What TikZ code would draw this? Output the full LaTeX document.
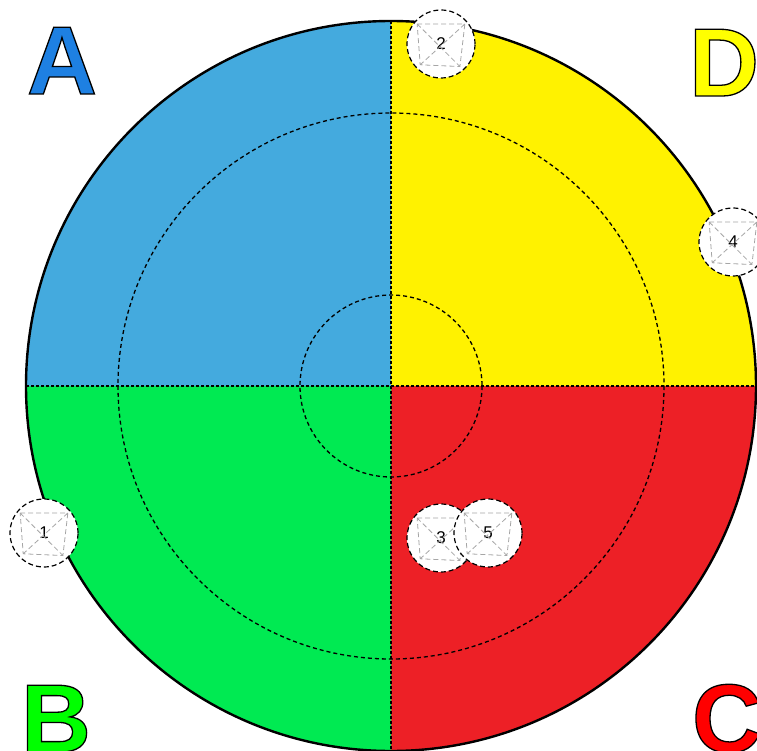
\documentclass[tikz,border=0pt]{standalone}
\usepackage{fontspec}
\setmainfont{Liberation Sans}
\usetikzlibrary{calc}
\definecolor{qblue}{RGB}{68,170,222}
\definecolor{qyellow}{RGB}{255,242,0}
\definecolor{qgreen}{RGB}{0,234,82}
\definecolor{qred}{RGB}{237,32,38}
\definecolor{lblue}{RGB}{30,128,226}
\definecolor{lyellow}{RGB}{255,255,0}
\definecolor{lgreen}{RGB}{0,255,0}
\definecolor{lred}{RGB}{255,0,0}
% outlined letters: fill with the text colour, stroke in black
\newcommand\outl[1]{\special{pdf:literal direct 2 Tr 1.3 w 0 0 0 RG}#1\special{pdf:literal direct 0 Tr}}

\begin{document}
\begin{tikzpicture}[x=1pt,y=-1pt,
  ring/.style={black,line width=1.3pt,dash pattern=on 4pt off 3pt},
  axis/.style={black,line width=2pt,dash pattern=on 3pt off 2pt},
  marker/.style={circle,fill=white,draw=black,line width=1.2pt,dash pattern=on 5pt off 3pt,minimum size=68pt,inner sep=0pt,font=\fontsize{17}{17}\selectfont},
  mlines/.style={gray!70,line width=0.8pt,dash pattern=on 5pt off 3pt},
  letter/.style={anchor=base,inner sep=0pt,font=\fontsize{97}{97}\selectfont\bfseries}]
\useasboundingbox (0,0) rectangle (757,751);
\clip (0,0) rectangle (757,751);
\coordinate (c) at (391,386);
\fill[qblue] (c) -- ++(180:365) arc[start angle=180,end angle=270,radius=365] -- cycle;
\fill[qyellow] (c) -- ++(270:365) arc[start angle=270,end angle=360,radius=365] -- cycle;
\fill[qred] (c) -- ++(0:365) arc[start angle=0,end angle=90,radius=365] -- cycle;
\fill[qgreen] (c) -- ++(90:365) arc[start angle=90,end angle=180,radius=365] -- cycle;
\draw[ring] (c) circle[radius=273];
\draw[ring] (c) circle[radius=91];
\draw[axis] (391,21) -- (391,751);
\draw[axis] (26,386) -- (756,386);
\draw[black,line width=2.4pt] (c) circle[radius=365];
% markers
\node[marker] (m1) at (44,533) {1};
\node[marker] (m2) at (441,44) {2};
\node[marker] (m4) at (733,242) {4};
\node[marker] (m3) at (441,538) {3};
\foreach \m in {m1,m2,m4,m3}
  \draw[mlines] ($(\m)!0.9!(\m.140)$) -- ($(\m)!0.9!(\m.40)$) -- ($(\m)!0.85!(\m.-50)$) -- ($(\m)!0.85!(\m.-135)$) -- cycle
    ($(\m)!0.9!(\m.140)$) -- ($(\m)!0.85!(\m.-50)$) ($(\m)!0.9!(\m.40)$) -- ($(\m)!0.85!(\m.-135)$);
\node[marker] (m5) at (488,533) {5};
\draw[mlines] ($(m5)!0.9!(m5.140)$) -- ($(m5)!0.9!(m5.40)$) -- ($(m5)!0.85!(m5.-50)$) -- ($(m5)!0.85!(m5.-135)$) -- cycle
  ($(m5)!0.9!(m5.140)$) -- ($(m5)!0.85!(m5.-50)$) ($(m5)!0.9!(m5.40)$) -- ($(m5)!0.85!(m5.-135)$);
% corner letters
\node[letter,text=lblue] (la) at (62,94) {\outl{A}};
\node[letter,text=lyellow] (ld) at (724,96) {\outl{D}};
\node[letter,text=lgreen] (lb) at (56,752) {\outl{B}};
\node[letter,text=lred] (lc) at (727,752) {\outl{C}};
\end{tikzpicture}
\end{document}
